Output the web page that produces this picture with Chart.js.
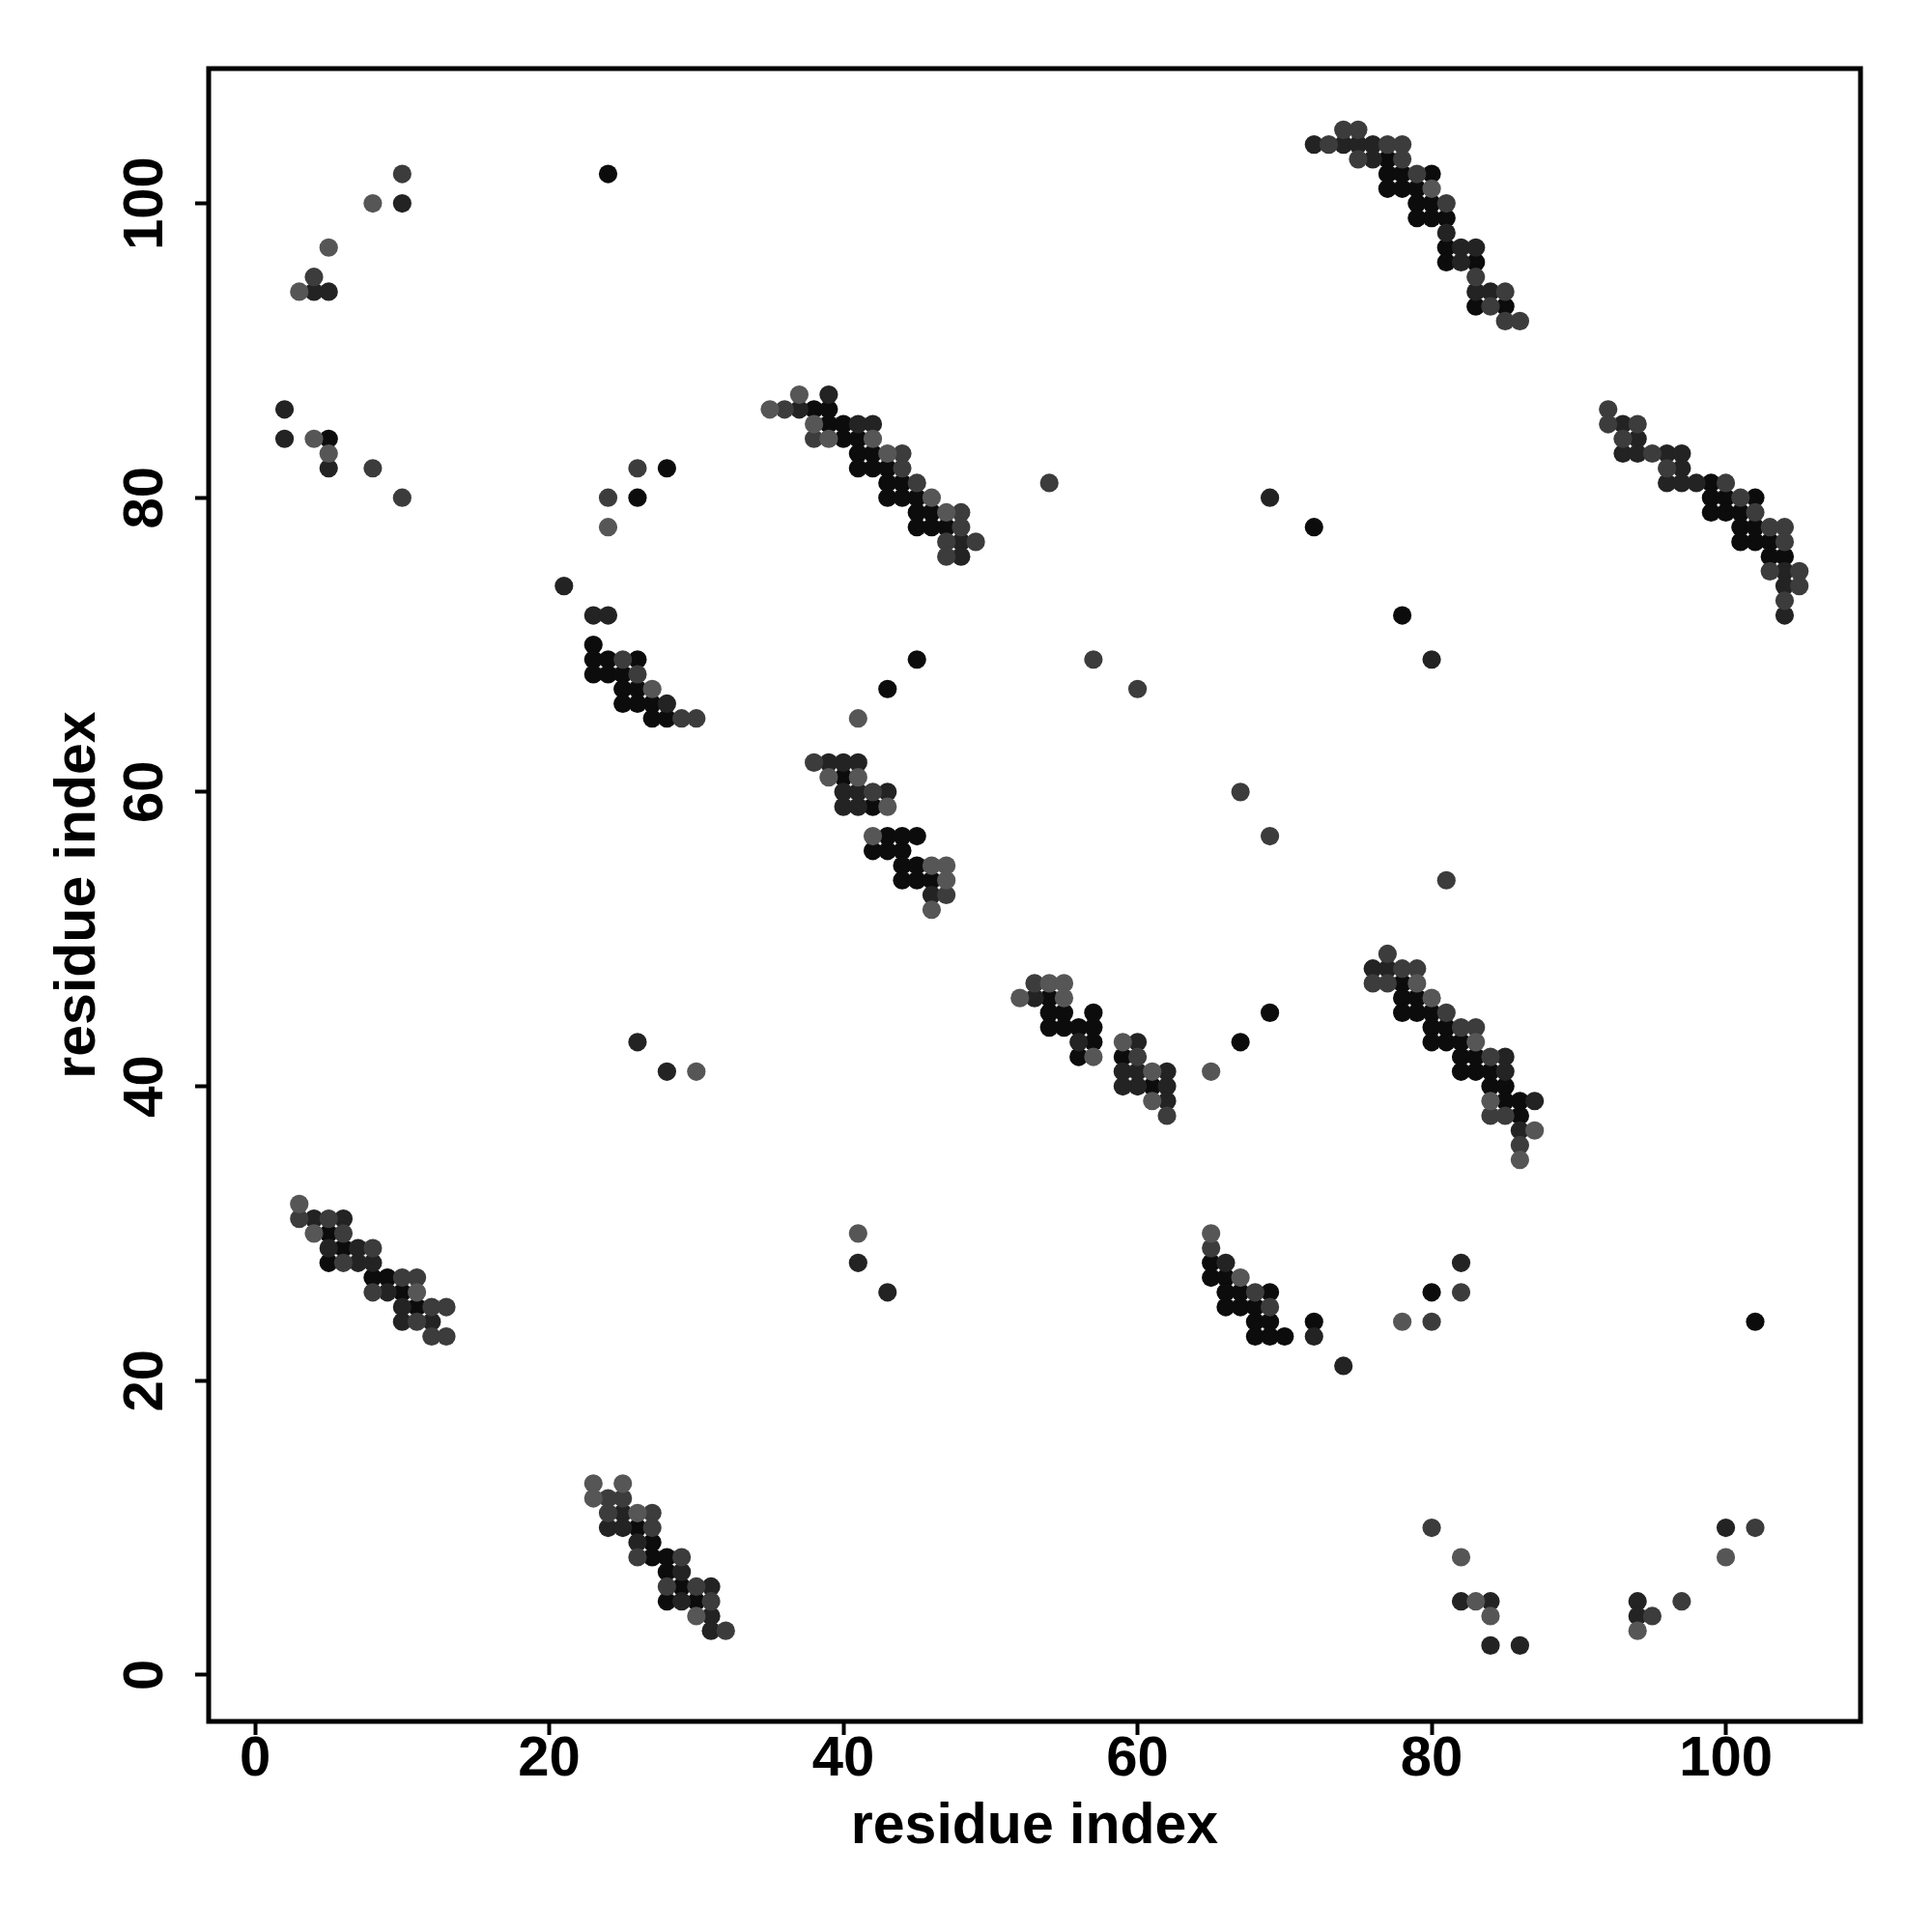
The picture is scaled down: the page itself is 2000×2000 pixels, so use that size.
<!DOCTYPE html>
<html>
<head>
<meta charset="utf-8">
<script src="https://cdn.jsdelivr.net/npm/chart.js@4.4.1/dist/chart.umd.min.js"></script>
<style>
  html, body { margin: 0; padding: 0; background: #fff; }
  #wrap { width: 2000px; height: 2000px; }
</style>
</head>
<body>
<div id="wrap"><canvas id="contactMap" width="2000" height="2000"></canvas></div>
<script>
// contacts, grouped by how dark the dot is (darkest first), as [i, j]
const shadeDarkest = [
  [5,84],
  [5,30],[6,29],[5,28],[8,27],[9,27],[10,26],[11,25],
  [28,82],[26,80],[23,70],[23,69],[24,69],[26,69],[23,68],[24,68],[25,68],[25,67],[26,67],
  [25,66],[26,66],[27,66],[27,65],[28,65],
  [26,10],[27,9],[27,8],[28,8],[28,7],[29,6],[28,5],[30,5],
  [38,86],[39,86],[39,85],[40,85],[40,84],[41,84],[41,83],[42,83],[41,82],[42,82],[43,82],
  [43,81],[44,81],[43,80],[44,80],[45,80],[45,79],[46,79],[45,78],[46,78],[47,78],
  [45,69],[43,67],[40,61],[42,59],[43,57],[44,57],[45,57],[42,56],[43,56],[44,56],
  [44,55],[45,55],[44,54],[45,54],[46,54],
  [54,46],[54,45],[55,45],[57,45],[54,44],[55,44],[56,44],[57,44],[57,43],[56,42],[59,42],
  [61,40],[67,43],[69,45],
  [65,28],[65,27],[66,27],[66,26],[67,26],[69,26],[66,25],[67,25],[68,25],[68,24],[69,24],
  [72,24],[68,23],[69,23],[70,23],
  [77,103],[77,102],[78,102],[80,102],[77,101],[78,101],[79,101],[79,100],[80,100],
  [79,99],[80,99],[81,99],[81,97],[81,96],[83,96],[83,93],[85,93],
  [78,47],[78,46],[79,46],[78,45],[79,45],[80,45],[80,44],[81,44],[80,43],[81,43],[82,43],
  [82,42],[83,42],[82,41],[83,41],[84,41],[84,40],[85,40],[85,39],[86,39],[86,38],
  [99,81],[99,80],[100,80],[102,80],[99,79],[100,79],[101,79],[101,78],[102,78],
  [101,77],[102,77],[103,77],[103,76],[104,76],
  [24,102],[72,78],[78,72],[80,26],[102,24]
];
const shadeDark = [
  [10,100],[4,94],[5,94],[2,86],[2,84],[5,82],
  [4,31],[6,31],[5,29],[7,29],[7,28],[8,28],[9,26],[10,25],[10,24],[12,24],
  [21,74],[23,72],[24,72],[28,66],
  [25,11],[24,10],[25,10],[26,9],[29,7],[31,6],[29,5],[31,4],[31,3],
  [39,87],[37,86],[41,85],[42,85],[48,77],[48,76],
  [39,62],[40,62],[41,62],[40,60],[41,60],[43,60],[40,59],[41,59],[46,53],
  [53,46],[56,43],[60,43],[59,41],[60,41],[62,41],[59,40],[60,40],[62,40],[62,39],
  [66,28],[72,23],[74,21],
  [72,104],[74,104],[75,104],[76,104],[76,103],[81,98],[82,97],[83,97],[82,96],[83,94],[84,94],
  [76,48],[77,48],[85,42],[85,41],[87,39],[86,37],
  [93,85],[94,84],[93,83],[94,83],[96,83],[97,83],[97,82],[96,81],[97,81],[98,81],
  [104,75],[104,74],[104,72],
  [82,5],[84,5],[84,2],[86,2],[94,5],[94,4],[100,10],
  [69,80],[80,69],[26,43],[28,41],[41,28],[43,26],[82,28]
];
const shadeMid = [
  [10,102],[4,95],[8,82],[10,80],
  [3,31],[5,31],[6,30],[8,29],[6,28],[10,27],[11,27],[8,26],[12,25],[13,25],[11,24],[12,23],[13,23],
  [26,82],[24,80],[25,69],[26,68],[29,65],[30,65],
  [24,12],[25,12],[24,11],[27,11],[27,10],[26,8],[29,8],[28,6],[30,6],[31,5],[32,3],
  [36,86],[38,84],[44,83],[44,82],[45,81],[48,79],[48,78],[47,77],[49,77],[47,76],
  [38,62],[42,60],[47,53],
  [53,47],[60,42],[62,38],
  [65,29],[68,26],[69,25],
  [74,105],[75,105],[73,104],[77,104],[78,104],[75,103],[78,103],[79,102],[81,100],
  [83,95],[85,94],[84,93],[85,92],[86,92],
  [77,49],[78,48],[79,48],[76,47],[77,47],[81,45],[82,44],[83,44],[84,42],[84,38],[85,38],[86,36],
  [92,86],[92,85],[94,85],[93,84],[95,83],[96,82],[100,81],[101,80],[102,79],[103,78],[104,78],
  [104,77],[103,75],[105,75],[105,74],[104,73],
  [80,10],[95,4],[97,5],[102,10],
  [54,81],[57,69],[60,67],[67,60],[69,57],[81,54],[80,24],[82,26]
];
const shadeLight = [
  [8,100],[5,97],[3,94],[4,84],[5,83],
  [3,32],[4,30],[11,26],
  [24,78],[27,67],
  [23,13],[25,13],[23,12],[26,11],[30,4],
  [37,87],[35,86],[38,85],[39,84],[42,84],[43,83],[46,80],[47,79],
  [41,65],[39,61],[41,61],[43,59],[42,57],[46,55],[47,55],[47,54],[46,52],
  [54,47],[55,47],[52,46],[55,46],[59,43],[57,42],[61,41],[61,39],[65,41],
  [65,30],[67,27],
  [80,101],
  [79,47],[80,46],[83,43],[84,39],[87,37],[86,35],
  [82,8],[83,5],[84,4],[94,3],[100,8],
  [30,41],[41,30],[78,24]
];

const shadeColors = ['#0c0c0c', '#232323', '#3c3c3c', '#565656'];
const tickValues = [0, 20, 40, 60, 80, 100];
const axisMin = -3.16;
const axisMax = 109.16;
const axisTitle = 'residue index';

const toPoints = arr => arr.map(p => ({ x: p[0], y: p[1] }));
const groups = [shadeLight, shadeMid, shadeDark, shadeDarkest];
const groupColors = [shadeColors[3], shadeColors[2], shadeColors[1], shadeColors[0]];

const boxPlugin = {
  id: 'plotBox',
  afterDraw(chart) {
    const { ctx, chartArea } = chart;
    ctx.save();
    ctx.strokeStyle = '#000';
    ctx.lineWidth = 5;
    ctx.strokeRect(chartArea.left, chartArea.top, chartArea.right - chartArea.left, chartArea.bottom - chartArea.top);
    ctx.restore();
  }
};

const tickFont = { family: 'Liberation Sans', size: 58, weight: 'bold', lineHeight: 0.9 };
const titleFont = { family: 'Liberation Sans', size: 59, weight: 'bold', lineHeight: 1 };

function axisOptions(isX) {
  return {
    type: 'linear',
    position: isX ? 'bottom' : 'left',
    min: axisMin,
    max: axisMax,
    afterBuildTicks: scale => { scale.ticks = tickValues.map(v => ({ value: v })); },
    afterFit: scale => {
      if (isX) scale.height = 218; else scale.width = 216;
    },
    grid: {
      display: true,
      drawOnChartArea: false,
      drawTicks: true,
      tickLength: 14,
      tickColor: '#000',
      tickWidth: 4
    },
    border: { display: false },
    ticks: {
      color: '#000',
      font: tickFont,
      padding: isX ? 0 : 2,
      minRotation: isX ? 0 : 90,
      maxRotation: isX ? 0 : 90,
      crossAlign: isX ? 'near' : 'center',
      callback: v => String(v)
    },
    title: {
      display: true,
      text: axisTitle,
      color: '#000',
      font: titleFont,
      padding: isX ? { top: 0, bottom: 79 } : { top: 52, bottom: 0 }
    }
  };
}

new Chart(document.getElementById('contactMap'), {
  type: 'scatter',
  data: {
    datasets: groups.map((g, i) => ({
      data: toPoints(g),
      backgroundColor: groupColors[i],
      borderWidth: 0,
      pointRadius: 9.6,
      pointHoverRadius: 9.6
    }))
  },
  options: {
    responsive: false,
    animation: false,
    devicePixelRatio: 1,
    layout: { padding: { top: 71, right: 74, left: 0, bottom: 0 } },
    plugins: { legend: { display: false }, tooltip: { enabled: false } },
    scales: { x: axisOptions(true), y: axisOptions(false) }
  },
  plugins: [boxPlugin]
});
</script>
</body>
</html>
